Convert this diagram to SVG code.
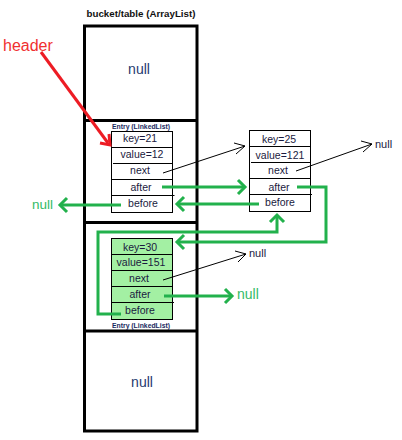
<svg xmlns="http://www.w3.org/2000/svg" width="402" height="440" viewBox="0 0 402 440">
<style>
.tbl{fill:none;stroke:#000;stroke-width:3}
.box{fill:#fff;stroke:#000;stroke-width:1}
.gbox{fill:#a3f0a3;stroke:#000;stroke-width:1}
.sep{stroke:#000;stroke-width:1}
.t{font-family:"Liberation Sans",Arial,sans-serif;font-size:10.5px;fill:#1a1a40;text-anchor:middle}
.small{font-family:"Liberation Sans",Arial,sans-serif;font-size:7px;font-weight:bold;fill:#1a2a60;text-anchor:middle}
.null{font-family:"Liberation Sans",Arial,sans-serif;font-size:14px;fill:#1f3a70;text-anchor:middle}
.gnull{font-family:"Liberation Sans",Arial,sans-serif;fill:#33bb66}
.dnull{font-family:"Liberation Sans",Arial,sans-serif;font-size:11px;fill:#1a1a40}
.g{fill:none;stroke:#22b14c;stroke-width:3}
.k{fill:none;stroke:#000;stroke-width:1}
</style>
<g id="table">
<text x="141" y="17" font-family="Liberation Sans,Arial,sans-serif" font-size="9.5" font-weight="bold" fill="#111" text-anchor="middle" textLength="109" lengthAdjust="spacingAndGlyphs">bucket/table (ArrayList)</text>
<rect class="tbl" x="84.5" y="26" width="112.5" height="405"/>
<line class="tbl" x1="84.5" y1="120.5" x2="197" y2="120.5"/>
<line class="tbl" x1="84.5" y1="222.5" x2="197" y2="222.5"/>
<line class="tbl" x1="84.5" y1="331" x2="197" y2="331"/>
<text class="null" x="139" y="74">null</text>
<text class="null" x="142" y="387">null</text>
</g>
<g id="header">
<text x="3" y="51" font-family="Liberation Sans,Arial,sans-serif" font-size="16" fill="#f03030">header</text>
</g>
<g id="entry1">
<text class="small" x="141" y="129" textLength="58" lengthAdjust="spacingAndGlyphs">Entry (LinkedList)</text>
<rect class="box" x="111.5" y="131.5" width="61" height="81"/>
<line class="sep" x1="111.5" y1="147.5" x2="172.5" y2="147.5"/>
<line class="sep" x1="113" y1="163.5" x2="172.5" y2="163.5"/>
<line class="sep" x1="111.5" y1="179.5" x2="172.5" y2="179.5"/>
<line class="sep" x1="111.5" y1="195.5" x2="174.5" y2="195.5"/>
<text class="t" x="140" y="142">key=21</text>
<text class="t" x="142" y="158">value=12</text>
<text class="t" x="140" y="174">next</text>
<text class="t" x="141" y="191">after</text>
<text class="t" x="143" y="207">before</text>
</g>
<g id="entry2">
<rect class="box" x="249.5" y="130.5" width="61" height="81"/>
<line class="sep" x1="249.5" y1="146.5" x2="310.5" y2="146.5"/>
<line class="sep" x1="251" y1="162.5" x2="310.5" y2="162.5"/>
<line class="sep" x1="249.5" y1="178.5" x2="310.5" y2="178.5"/>
<line class="sep" x1="249.5" y1="194.5" x2="312" y2="194.5"/>
<text class="t" x="279" y="143">key=25</text>
<text class="t" x="280" y="159">value=121</text>
<text class="t" x="278" y="174">next</text>
<text class="t" x="279" y="191">after</text>
<text class="t" x="280" y="206">before</text>
</g>
<g id="entry3">
<rect class="gbox" x="111.5" y="238.5" width="61" height="81"/>
<line class="sep" x1="111.5" y1="254.5" x2="172.5" y2="254.5"/>
<line class="sep" x1="111.5" y1="270.5" x2="172.5" y2="270.5"/>
<line class="sep" x1="111.5" y1="286.5" x2="172.5" y2="286.5"/>
<line class="sep" x1="111.5" y1="302.5" x2="174" y2="302.5"/>
<text class="t" x="140" y="251">key=30</text>
<text class="t" x="141" y="266">value=151</text>
<text class="t" x="139" y="282">next</text>
<text class="t" x="140" y="298">after</text>
<text class="t" x="140" y="314">before</text>
<text class="small" x="141" y="328" textLength="58" lengthAdjust="spacingAndGlyphs">Entry (LinkedList)</text>
</g>
<g id="nulls">
<text class="dnull" x="375" y="148">null</text>
<text class="dnull" x="249" y="257">null</text>
<text class="gnull" x="32" y="209" font-size="13.5">null</text>
<text class="gnull" x="237" y="299" font-size="14">null</text>
</g>
<g id="connectors">
<polyline points="41,52 108,143" fill="none" stroke="#ed1c24" stroke-width="3"/>
<polyline points="100,143 110,145 109,134" fill="none" stroke="#ed1c24" stroke-width="3"/>
<line class="k" x1="163" y1="173" x2="245" y2="146"/>
<polyline class="k" points="234,143 245,146 236,154"/>
<line class="k" x1="296" y1="171" x2="372" y2="144"/>
<polyline class="k" points="361,141 372,144 363,152"/>
<line class="k" x1="163" y1="280" x2="246" y2="254"/>
<polyline class="k" points="235,251 246,254 238,262"/>
<line class="g" x1="162" y1="187" x2="245" y2="187"/>
<polyline class="g" points="238,180 245,187 238,194"/>
<line class="g" x1="259" y1="204" x2="177" y2="204"/>
<polyline class="g" points="184,197 177,204 184,211"/>
<line class="g" x1="121" y1="205" x2="60" y2="205"/>
<polyline class="g" points="67,198 60,205 67,212"/>
<polyline class="g" points="297,187 326,187 326,242 177,242"/>
<polyline class="g" points="184,235 177,242 184,249"/>
<polyline class="g" points="121,314 98,314 98,232 277,232 277,215"/>
<polyline class="g" points="270,222 277,215 284,222"/>
<line class="g" x1="164" y1="296" x2="232" y2="296"/>
<polyline class="g" points="225,289 232,296 225,303"/>
</g>
</svg>
